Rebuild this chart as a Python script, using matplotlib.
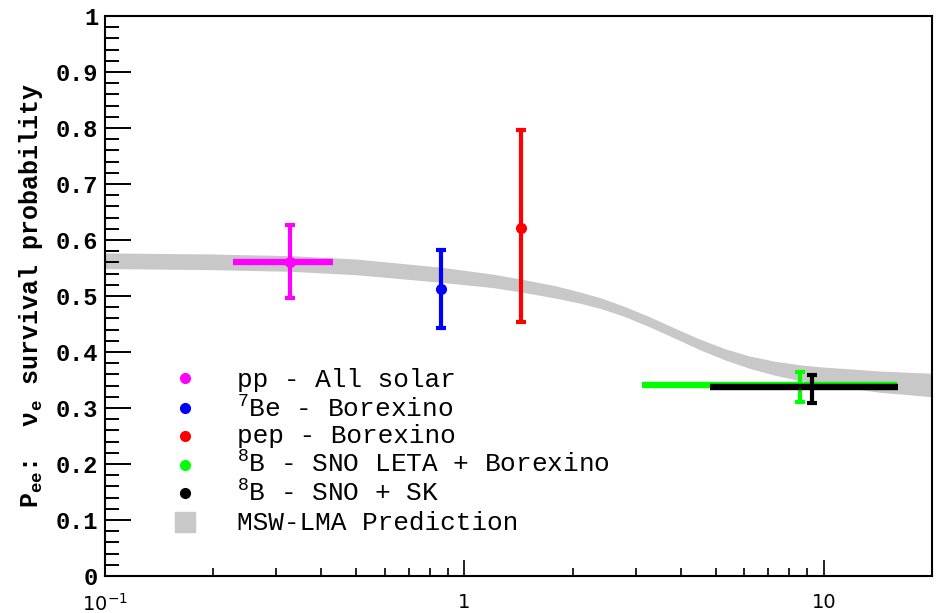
import numpy as np
import matplotlib
matplotlib.use("Agg")
import matplotlib.pyplot as plt
from matplotlib.ticker import FixedLocator, MultipleLocator, NullFormatter

plt.rcParams["mathtext.fontset"] = "custom"
plt.rcParams["mathtext.rm"] = "Liberation Mono"
plt.rcParams["mathtext.it"] = "Liberation Mono"
plt.rcParams["mathtext.bf"] = "Liberation Mono:bold"

# MSW-LMA prediction band (centre and half width)
band_e = [0.1, 0.2, 0.33, 0.5, 0.86, 1.2, 1.43, 1.8, 2.1, 2.4, 2.8, 3.3, 3.9, 4.5,
          5.3, 6.2, 7.3, 8.6, 10.0, 11.8, 14.3, 17.0, 20.0]
band_mid = [0.563, 0.561, 0.558, 0.552, 0.538, 0.527, 0.519, 0.507, 0.497, 0.487, 0.472,
            0.453, 0.432, 0.414, 0.396, 0.382, 0.371, 0.363, 0.358, 0.353, 0.347, 0.344, 0.341]
band_hw = [0.014, 0.014, 0.014, 0.014, 0.0135, 0.012, 0.0115, 0.011, 0.010, 0.0095, 0.009,
           0.009, 0.009, 0.0095, 0.010, 0.011, 0.0125, 0.014, 0.015, 0.017, 0.019, 0.020, 0.021]

# measurements: energy, low/high energy edge, Pee, low/high error edge
names = ["pp - All solar", "$^{7}$Be - Borexino", "pep - Borexino",
         "$^{8}$B - SNO LETA + Borexino", "$^{8}$B - SNO + SK"]
colors = ["#ff00ff", "#0000ff", "#ff0000", "#00ff00", "#000000"]
energy = [0.327, 0.862, 1.44, 8.57, 9.27]
e_lo = [0.227, 0.862, 1.44, 3.12, 4.82]
e_hi = [0.431, 0.862, 1.44, 15.96, 16.07]
pee = [0.560, 0.512, 0.621, 0.341, 0.338]
pee_lo = [0.496, 0.442, 0.453, 0.311, 0.309]
pee_hi = [0.626, 0.583, 0.796, 0.365, 0.359]
has_dot = [True, True, True, False, False]

fig = plt.figure(figsize=(9.37, 6.13), dpi=100)
ax = fig.add_axes([105 / 937, 37 / 613, 827 / 937, 560 / 613])

mid = np.array(band_mid)
hw = np.array(band_hw)
ax.fill_between(band_e, mid - hw, mid + hw, color="#c8c8c8", lw=0, zorder=1)

for i in range(len(names)):
    if e_hi[i] > e_lo[i]:
        ax.plot([e_lo[i], e_hi[i]], [pee[i], pee[i]], color=colors[i], lw=4.6,
                solid_capstyle="butt", zorder=3 + i)
    ax.errorbar([energy[i]], [pee[i]],
                yerr=[[pee[i] - pee_lo[i]], [pee_hi[i] - pee[i]]],
                fmt="o" if has_dot[i] else "none", color=colors[i], ms=7,
                elinewidth=3, capsize=3.5, capthick=3, zorder=3 + i)

ax.set_xscale("log")
ax.set_xlim(0.1, 20)
ax.set_ylim(0, 1)

ax.xaxis.set_major_locator(FixedLocator([0.1, 1, 10]))
ax.set_xticklabels(["$\\mathsf{10^{-1}}$", "1", "10"], fontsize=14, family="DejaVu Sans")
ax.xaxis.set_minor_locator(FixedLocator([k * 10.0 ** d for d in (-1, 0, 1) for k in range(2, 10)
                                         if k * 10.0 ** d < 20]))
ax.xaxis.set_minor_formatter(NullFormatter())

ax.yaxis.set_major_locator(MultipleLocator(0.1))
ax.yaxis.set_minor_locator(MultipleLocator(0.02))
ax.set_yticks(np.arange(0, 1.01, 0.1))
ax.set_yticklabels(["0"] + ["%.1f" % v for v in np.arange(0.1, 0.95, 0.1)] + ["1"],
                   family="Liberation Mono", fontweight="bold", fontsize=17)

ax.tick_params(axis="y", which="major", direction="in", length=18.5, width=1.4, pad=5)
ax.tick_params(axis="y", which="minor", direction="in", length=10, width=1.4)
ax.tick_params(axis="x", which="major", direction="in", length=11.5, width=1.2, pad=12)
ax.tick_params(axis="x", which="minor", direction="in", length=5.8, width=1.2)
for s in ax.spines.values():
    s.set_linewidth(1.5)

ax.set_ylabel("$\\mathbf{P_{ee}}$:  $\\mathbf{\\nu_e}$ survival probability",
              family="Liberation Mono", fontweight="bold", fontsize=18, labelpad=8)

# legend, drawn by hand like the ROOT TLegend
leg_y = [0.354, 0.300, 0.250, 0.198, 0.148]
txt_y = [0.338, 0.284, 0.238, 0.185, 0.134]
for i in range(len(names)):
    ax.plot([0.0967], [leg_y[i]], "o", color=colors[i], ms=7, transform=ax.transAxes,
            clip_on=False)
    ax.text(0.160, txt_y[i], names[i], transform=ax.transAxes, family="Liberation Mono",
            fontsize=18.8, va="baseline", ha="left")
ax.plot([0.0967], [0.096], "s", color="#c8c8c8", ms=15, transform=ax.transAxes)
ax.text(0.160, 0.082, "MSW-LMA Prediction", transform=ax.transAxes, family="Liberation Mono",
        fontsize=18.8, va="baseline", ha="left")

fig.savefig("out.png", dpi=100)
